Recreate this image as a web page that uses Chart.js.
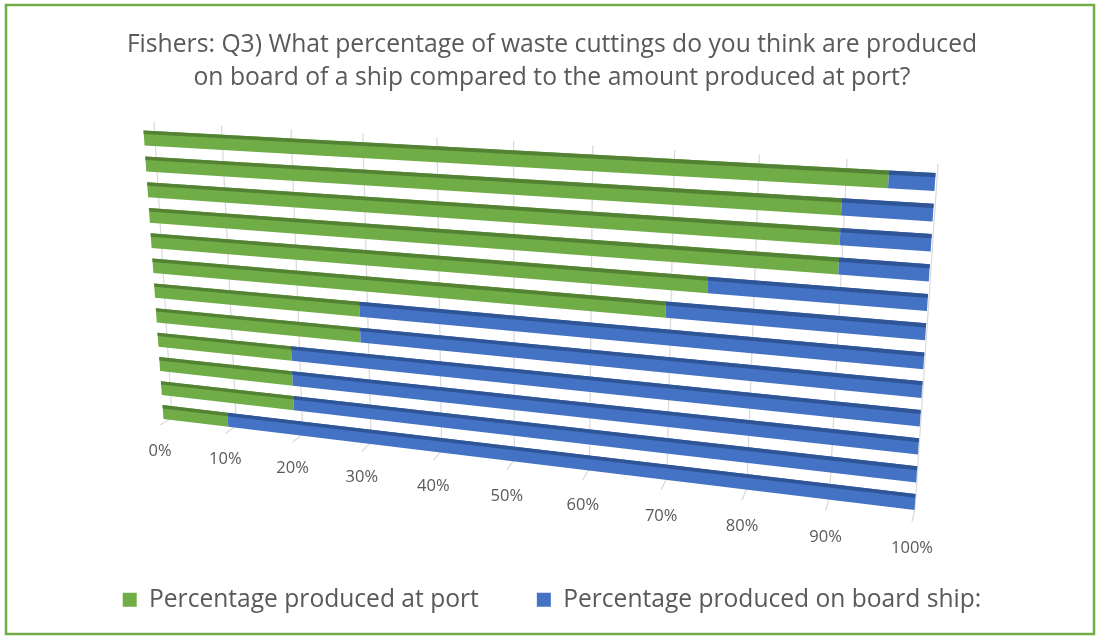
<!DOCTYPE html>
<html lang="en">
<head>
<meta charset="UTF-8">
<title>Fishers Q3 - waste cuttings on board vs at port</title>
<script src="https://cdn.jsdelivr.net/npm/chart.js"></script>
<style>
  html, body { margin: 0; padding: 0; background: #fff; }
  canvas { display: block; }
</style>
</head>
<body>
<canvas id="wasteChart" width="1096" height="636"></canvas>
<script>
// one row per fisher who answered, top to bottom
const respondents = ['1', '2', '3', '4', '5', '6', '7', '8', '9', '10', '11', '12'];
const portShare  = [95, 90, 90, 90, 75, 70, 30, 30, 20, 20, 20, 10];
const boardShare = [5, 10, 10, 10, 25, 30, 70, 70, 80, 80, 80, 90];
const seriesNames = ['Percentage produced at port', 'Percentage produced on board ship:'];
const titleLines = [
    'Fishers: Q3) What percentage of waste cuttings do you think are produced',
    'on board of a ship compared to the amount produced at port?'
];

const faceColors = ['#70AD47', '#4472C4'];
const topColors  = ['#548235', '#2F5597'];
const TEXT = '#595959';

// where the tilted plot lands on screen: top-left, top-right, bottom-right, bottom-left
const WALL = [[154, 122], [938, 164], [915, 508], [172, 418]];
// centre lines of the first and last bar
const BAR_ROWS = [[144, 138], [935, 182], [915, 502], [163, 412]];

const pct = v => v + '%';

function solve(A, b) {
    const n = b.length;
    const M = A.map((row, i) => row.concat(b[i]));
    for (let c = 0; c < n; c++) {
        let p = c;
        for (let r = c + 1; r < n; r++) if (Math.abs(M[r][c]) > Math.abs(M[p][c])) p = r;
        [M[c], M[p]] = [M[p], M[c]];
        for (let r = 0; r < n; r++) {
            if (r === c) continue;
            const f = M[r][c] / M[c][c];
            for (let k = c; k <= n; k++) M[r][k] -= f * M[c][k];
        }
    }
    return M.map((row, i) => row[n] / row[i]);
}

// projective map taking 4 src points onto 4 dst points
function homography(src, dst) {
    const A = [], b = [];
    for (let i = 0; i < 4; i++) {
        const [x, y] = src[i], [u, v] = dst[i];
        A.push([x, y, 1, 0, 0, 0, -u * x, -u * y]); b.push(u);
        A.push([0, 0, 0, x, y, 1, -v * x, -v * y]); b.push(v);
    }
    const h = solve(A, b);
    return (x, y) => {
        const w = h[6] * x + h[7] * y + 1;
        return [(h[0] * x + h[1] * y + h[2]) / w, (h[3] * x + h[4] * y + h[5]) / w];
    };
}

function fillQuad(ctx, map, l, r, t, b, color) {
    const pts = [map(l, t), map(r, t), map(r, b), map(l, b)];
    ctx.beginPath();
    ctx.moveTo(pts[0][0], pts[0][1]);
    for (let i = 1; i < 4; i++) ctx.lineTo(pts[i][0], pts[i][1]);
    ctx.closePath();
    ctx.fillStyle = color;
    ctx.fill();
}

// draws the bars, grid and value labels in a tilted 3D-ish view
const tilt = {
    id: 'tilt',
    beforeDatasetsDraw(chart) {
        const { ctx, chartArea: area, scales: { x: xs, y: ys } } = chart;
        const x0 = xs.getPixelForValue(xs.min), x1 = xs.getPixelForValue(xs.max);
        const wall = homography([[x0, area.top], [x1, area.top], [x1, area.bottom], [x0, area.bottom]], WALL);
        const yFirst = ys.getPixelForValue(0), yLast = ys.getPixelForValue(respondents.length - 1);
        const rows = homography([[x0, yFirst], [x1, yFirst], [x1, yLast], [x0, yLast]], BAR_ROWS);

        ctx.save();
        ctx.strokeStyle = '#D9D9D9';
        ctx.lineWidth = 1.2;
        const feet = [];
        xs.ticks.forEach(tk => {
            const px = xs.getPixelForValue(tk.value);
            const s = (tk.value - xs.min) / (xs.max - xs.min);
            const top = wall(px, area.top), back = wall(px, area.bottom);
            const front = [back[0] - 12 + 9 * s, back[1] + 7 + 7 * s];
            ctx.beginPath();
            ctx.moveTo(top[0], top[1]);
            ctx.lineTo(back[0], back[1]);
            ctx.lineTo(front[0], front[1]);
            ctx.stroke();
            feet.push([tk.value, front]);
        });

        chart.data.datasets.forEach((ds, di) => {
            const meta = chart.getDatasetMeta(di);
            if (meta.hidden) return;
            meta.data.forEach(bar => {
                const { x, y, base, height } = bar.getProps(['x', 'y', 'base', 'height'], true);
                const l = Math.min(x, base), r = Math.max(x, base);
                const t = y - height / 2, b = y + height / 2;
                fillQuad(ctx, rows, l, r, t, b, faceColors[di]);
                fillQuad(ctx, rows, l, r, t, t + height * 0.24, topColors[di]);
            });
        });

        ctx.fillStyle = TEXT;
        ctx.font = '16.5px "Open Sans"';
        ctx.textAlign = 'center';
        ctx.textBaseline = 'middle';
        feet.forEach(([v, p]) => ctx.fillText(pct(v), p[0], p[1] + 26));
        ctx.restore();
        return false;
    },
    afterDraw(chart) {
        const ctx = chart.ctx;
        ctx.save();
        ctx.strokeStyle = '#70AD47';
        ctx.lineWidth = 2.5;
        ctx.strokeRect(6, 5, 1088, 629);
        ctx.restore();
    }
};

Chart.defaults.font.family = "'Open Sans', sans-serif";

new Chart(document.getElementById('wasteChart'), {
    type: 'bar',
    data: {
        labels: respondents,
        datasets: [
            { label: seriesNames[0], data: portShare, backgroundColor: faceColors[0], borderWidth: 0 },
            { label: seriesNames[1], data: boardShare, backgroundColor: faceColors[1], borderWidth: 0 }
        ]
    },
    options: {
        responsive: false,
        animation: false,
        devicePixelRatio: 1,
        indexAxis: 'y',
        layout: { padding: { top: 0, bottom: 14, left: 8, right: 0 } },
        datasets: { bar: { barPercentage: 0.58, categoryPercentage: 1 } },
        scales: {
            x: {
                stacked: true, min: 0, max: 100,
                ticks: { stepSize: 10, display: false, callback: pct },
                grid: { display: false },
                border: { display: false }
            },
            y: { stacked: true, display: false }
        },
        plugins: {
            title: {
                display: true,
                text: titleLines,
                color: TEXT,
                font: { size: 24.7, weight: 'normal', lineHeight: 1.36 },
                padding: { top: 28, bottom: 10 }
            },
            legend: {
                position: 'bottom',
                labels: {
                    boxWidth: 14, boxHeight: 14, padding: 58,
                    color: TEXT,
                    font: { size: 24.6 }
                }
            },
            tooltip: { enabled: false }
        }
    },
    plugins: [tilt]
});
</script>
</body>
</html>
